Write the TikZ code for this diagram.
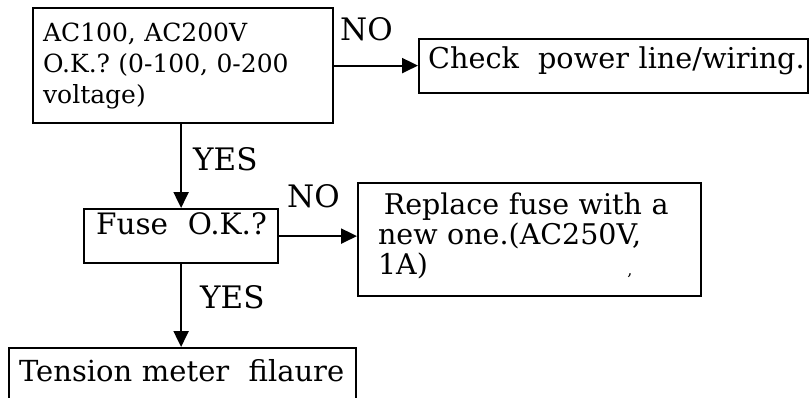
\documentclass[tikz,border=0pt]{standalone}
\usepackage{fontspec}
\setmainfont{DejaVu Serif}
\usetikzlibrary{arrows.meta}
\newcommand{\fsz}[2]{\fontsize{#1}{#2}\selectfont\frenchspacing}
\tikzset{
  box/.style={draw, line width=2.2pt, inner ysep=0pt, anchor=north west, align=left},
  lbl/.style={anchor=base west, inner sep=0pt, font=\fsz{31}{31}},
  arr/.style={line width=2.2pt, -{Triangle[length=16pt,width=15pt]}}
}
\begin{document}
\begin{tikzpicture}[x=1pt,y=1pt]
\useasboundingbox (0,0) rectangle (809,-397);
\clip (0,0) rectangle (809,-397);
\node[box, inner xsep=10pt, text width=280pt, text height=33pt, text depth=82pt, font=\fsz{25}{31}] (b1) at (32,-7)
  {AC100, AC200V\\O.K.? (0-100, 0-200\\voltage)};
\node[box, inner xsep=9pt, text width=371pt, text height=29pt, text depth=25pt, font=\fsz{28.7}{30}] (b2) at (418,-38)
  {\mbox{Check\ \ power line/wiring.}};
\node[box, inner xsep=12pt, text width=170pt, text height=25pt, text depth=29pt, font=\fsz{29.5}{30}] (fuse) at (83,-208)
  {\mbox{Fuse\ \ O.K.?}};
\node[box, inner xsep=20pt, text width=303pt, text height=31pt, text depth=82pt, font=\fsz{28.5}{30}] (b3) at (357,-182)
  {\hspace*{0.2em}Replace fuse with a\\new one.(AC250V,\\1A)};
\node[box, inner xsep=10pt, text width=327pt, text height=33pt, text depth=60pt, font=\fsz{29}{30}] (b4) at (8,-347)
  {\mbox{Tension meter\ \ filaure}};
\node[inner sep=0pt, font=\fsz{16}{16}] (mark) at (630,-276) {,};
\draw[arr] (b1.east) -- (b1.east -| b2.west);
\draw[arr] (b1.south -| fuse.north) -- (fuse.north);
\draw[arr] (fuse.east) -- (fuse.east -| b3.west);
\draw[arr] (fuse.south) -- (fuse.south |- b4.north);
\node[lbl] (no1) at (340,-40) {NO};
\node[lbl] (yes1) at (193,-170) {YES};
\node[lbl] (no2) at (287,-207) {NO};
\node[lbl] (yes2) at (200,-308) {YES};
\end{tikzpicture}
\end{document}
